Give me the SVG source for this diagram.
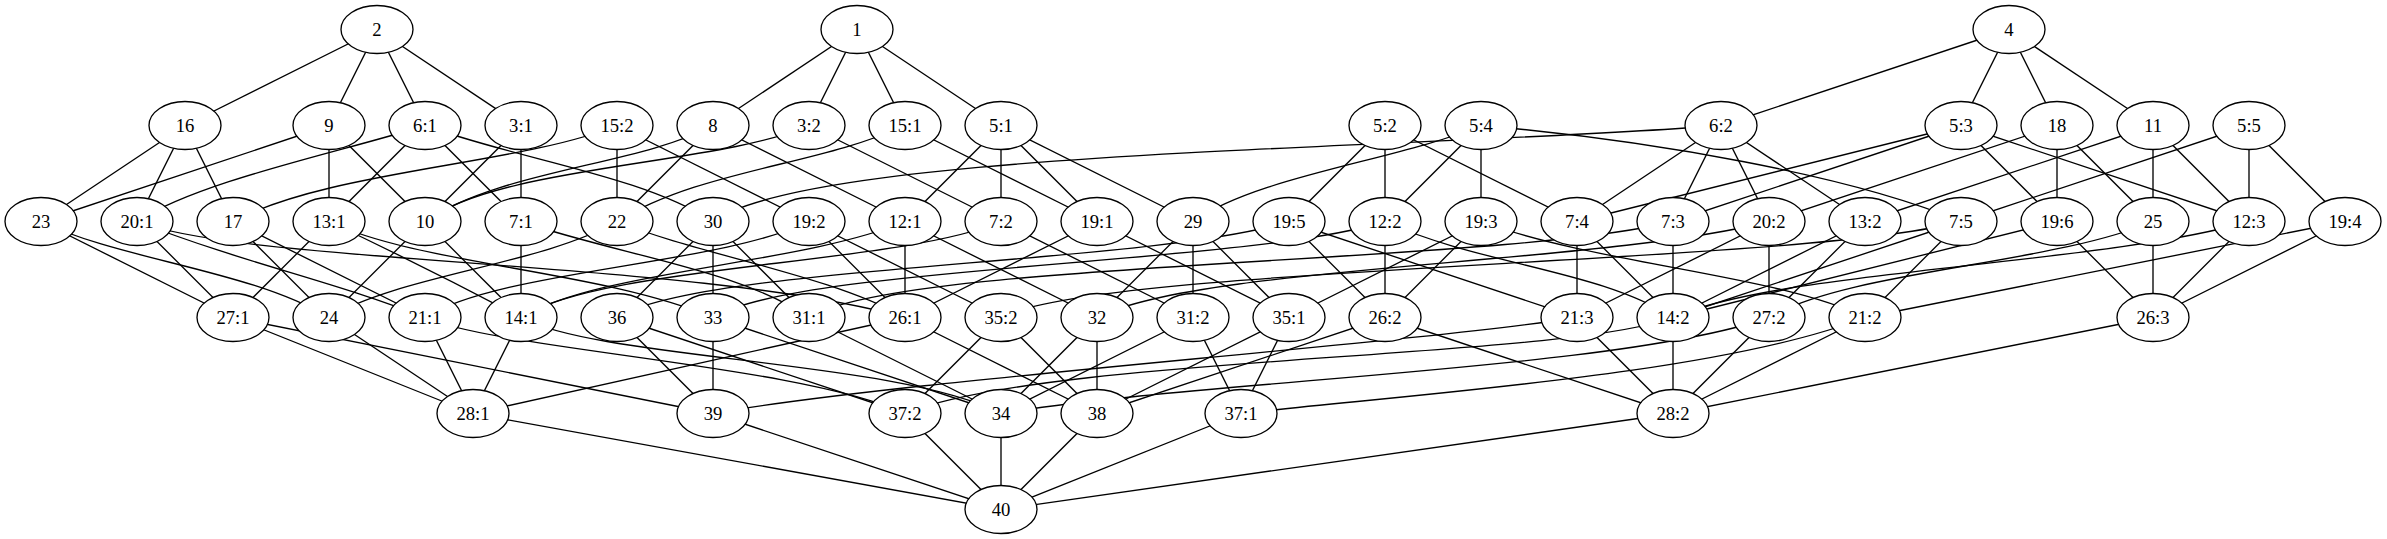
<svg xmlns="http://www.w3.org/2000/svg" width="2387" height="539" viewBox="0 0 2387 539">
<style>
.e{stroke:#000;stroke-width:1.33;fill:none}
.n ellipse{fill:#fff;stroke:#000;stroke-width:1.33}
.n text{font-family:"Liberation Serif","Times New Roman",serif;font-size:18.67px;text-anchor:middle;fill:#000}
</style>
<rect width="2387" height="539" fill="#fff"/>
<g id="connectors">
<line class="e" x1="377" y1="29.5" x2="185" y2="125.5"/>
<line class="e" x1="377" y1="29.5" x2="329" y2="125.5"/>
<line class="e" x1="377" y1="29.5" x2="425" y2="125.5"/>
<line class="e" x1="377" y1="29.5" x2="521" y2="125.5"/>
<line class="e" x1="857" y1="29.5" x2="713" y2="125.5"/>
<line class="e" x1="857" y1="29.5" x2="809" y2="125.5"/>
<line class="e" x1="857" y1="29.5" x2="905" y2="125.5"/>
<line class="e" x1="857" y1="29.5" x2="1001" y2="125.5"/>
<line class="e" x1="2009" y1="29.5" x2="1721" y2="125.5"/>
<line class="e" x1="2009" y1="29.5" x2="1961" y2="125.5"/>
<line class="e" x1="2009" y1="29.5" x2="2057" y2="125.5"/>
<line class="e" x1="2009" y1="29.5" x2="2153" y2="125.5"/>

<line class="e" x1="185" y1="125.5" x2="41" y2="221.5"/>
<line class="e" x1="185" y1="125.5" x2="137" y2="221.5"/>
<line class="e" x1="185" y1="125.5" x2="233" y2="221.5"/>
<line class="e" x1="329" y1="125.5" x2="41" y2="221.5"/>
<line class="e" x1="329" y1="125.5" x2="329" y2="221.5"/>
<line class="e" x1="329" y1="125.5" x2="425" y2="221.5"/>
<path class="e" d="M425,125.5 C350,150 200,180 137,221.5"/>
<line class="e" x1="425" y1="125.5" x2="329" y2="221.5"/>
<line class="e" x1="425" y1="125.5" x2="521" y2="221.5"/>
<path class="e" d="M425,125.5 C520,160 640,175 713,221.5"/>
<line class="e" x1="521" y1="125.5" x2="425" y2="221.5"/>
<line class="e" x1="521" y1="125.5" x2="521" y2="221.5"/>
<path class="e" d="M617,125.5 C520,165 330,170 233,221.5"/>
<line class="e" x1="617" y1="125.5" x2="617" y2="221.5"/>
<line class="e" x1="617" y1="125.5" x2="809" y2="221.5"/>
<path class="e" d="M713,125.5 C640,165 500,170 425,221.5"/>
<line class="e" x1="713" y1="125.5" x2="617" y2="221.5"/>
<line class="e" x1="713" y1="125.5" x2="905" y2="221.5"/>
<path class="e" d="M809,125.5 C720,165 500,165 425,221.5"/>
<line class="e" x1="809" y1="125.5" x2="1001" y2="221.5"/>
<path class="e" d="M905,125.5 C820,165 700,170 617,221.5"/>
<line class="e" x1="905" y1="125.5" x2="1097" y2="221.5"/>
<line class="e" x1="1001" y1="125.5" x2="905" y2="221.5"/>
<line class="e" x1="1001" y1="125.5" x2="1001" y2="221.5"/>
<line class="e" x1="1001" y1="125.5" x2="1097" y2="221.5"/>
<line class="e" x1="1001" y1="125.5" x2="1193" y2="221.5"/>
<line class="e" x1="1385" y1="125.5" x2="1289" y2="221.5"/>
<line class="e" x1="1385" y1="125.5" x2="1385" y2="221.5"/>
<line class="e" x1="1385" y1="125.5" x2="1577" y2="221.5"/>
<path class="e" d="M1481,125.5 C1400,160 1260,175 1193,221.5"/>
<line class="e" x1="1481" y1="125.5" x2="1385" y2="221.5"/>
<line class="e" x1="1481" y1="125.5" x2="1481" y2="221.5"/>
<path class="e" d="M1481,125.5 C1650,140 1850,175 1961,221.5"/>
<path class="e" d="M1721,125.5 C1419,149.5 814,149.5 713,221.5"/>
<line class="e" x1="1721" y1="125.5" x2="1577" y2="221.5"/>
<line class="e" x1="1721" y1="125.5" x2="1673" y2="221.5"/>
<line class="e" x1="1721" y1="125.5" x2="1769" y2="221.5"/>
<line class="e" x1="1721" y1="125.5" x2="1865" y2="221.5"/>
<line class="e" x1="1961" y1="125.5" x2="1577" y2="221.5"/>
<line class="e" x1="1961" y1="125.5" x2="1673" y2="221.5"/>
<line class="e" x1="1961" y1="125.5" x2="2057" y2="221.5"/>
<line class="e" x1="1961" y1="125.5" x2="2249" y2="221.5"/>
<line class="e" x1="2057" y1="125.5" x2="1769" y2="221.5"/>
<line class="e" x1="2057" y1="125.5" x2="2057" y2="221.5"/>
<line class="e" x1="2057" y1="125.5" x2="2153" y2="221.5"/>
<line class="e" x1="2153" y1="125.5" x2="1865" y2="221.5"/>
<line class="e" x1="2153" y1="125.5" x2="2153" y2="221.5"/>
<line class="e" x1="2153" y1="125.5" x2="2249" y2="221.5"/>
<line class="e" x1="2249" y1="125.5" x2="1961" y2="221.5"/>
<line class="e" x1="2249" y1="125.5" x2="2249" y2="221.5"/>
<line class="e" x1="2249" y1="125.5" x2="2345" y2="221.5"/>

<line class="e" x1="41" y1="221.5" x2="233" y2="317.5"/>
<path class="e" d="M41,221.5 C120,260 250,270 329,317.5"/>
<line class="e" x1="137" y1="221.5" x2="233" y2="317.5"/>
<path class="e" d="M137,221.5 C250,265 330,280 425,317.5"/>
<path class="e" d="M137,221.5 C250,265 700,260 905,317.5"/>
<line class="e" x1="233" y1="221.5" x2="329" y2="317.5"/>
<line class="e" x1="233" y1="221.5" x2="425" y2="317.5"/>
<line class="e" x1="329" y1="221.5" x2="233" y2="317.5"/>
<path class="e" d="M329,221.5 C400,255 450,280 521,317.5"/>
<path class="e" d="M329,221.5 C420,265 600,270 713,317.5"/>
<line class="e" x1="425" y1="221.5" x2="329" y2="317.5"/>
<line class="e" x1="425" y1="221.5" x2="521" y2="317.5"/>
<line class="e" x1="521" y1="221.5" x2="521" y2="317.5"/>
<path class="e" d="M521,221.5 C620,255 740,270 809,317.5"/>
<path class="e" d="M617,221.5 C540,265 400,275 329,317.5"/>
<path class="e" d="M617,221.5 C700,255 830,275 905,317.5"/>
<line class="e" x1="713" y1="221.5" x2="617" y2="317.5"/>
<line class="e" x1="713" y1="221.5" x2="713" y2="317.5"/>
<line class="e" x1="713" y1="221.5" x2="809" y2="317.5"/>
<path class="e" d="M809,221.5 C720,265 500,270 425,317.5"/>
<line class="e" x1="809" y1="221.5" x2="905" y2="317.5"/>
<line class="e" x1="809" y1="221.5" x2="1001" y2="317.5"/>
<path class="e" d="M905,221.5 C800,265 600,270 521,317.5"/>
<line class="e" x1="905" y1="221.5" x2="905" y2="317.5"/>
<line class="e" x1="905" y1="221.5" x2="1097" y2="317.5"/>
<path class="e" d="M1001,221.5 C900,265 600,265 521,317.5"/>
<line class="e" x1="1001" y1="221.5" x2="1193" y2="317.5"/>
<line class="e" x1="1097" y1="221.5" x2="905" y2="317.5"/>
<line class="e" x1="1097" y1="221.5" x2="1289" y2="317.5"/>
<line class="e" x1="1193" y1="221.5" x2="1097" y2="317.5"/>
<line class="e" x1="1193" y1="221.5" x2="1193" y2="317.5"/>
<line class="e" x1="1193" y1="221.5" x2="1289" y2="317.5"/>
<path class="e" d="M1289,221.5 C1150,265 700,265 617,317.5"/>
<line class="e" x1="1289" y1="221.5" x2="1385" y2="317.5"/>
<line class="e" x1="1289" y1="221.5" x2="1577" y2="317.5"/>
<path class="e" d="M1385,221.5 C1250,265 800,265 713,317.5"/>
<line class="e" x1="1385" y1="221.5" x2="1385" y2="317.5"/>
<path class="e" d="M1385,221.5 C1480,265 1600,270 1673,317.5"/>
<line class="e" x1="1481" y1="221.5" x2="1289" y2="317.5"/>
<line class="e" x1="1481" y1="221.5" x2="1385" y2="317.5"/>
<path class="e" d="M1481,221.5 C1600,265 1780,275 1865,317.5"/>
<line class="e" x1="1577" y1="221.5" x2="1577" y2="317.5"/>
<line class="e" x1="1577" y1="221.5" x2="1673" y2="317.5"/>
<path class="e" d="M1673,221.5 C1500,265 900,260 809,317.5"/>
<line class="e" x1="1673" y1="221.5" x2="1673" y2="317.5"/>
<path class="e" d="M1769,221.5 C1600,265 1200,265 1097,317.5"/>
<line class="e" x1="1769" y1="221.5" x2="1577" y2="317.5"/>
<line class="e" x1="1769" y1="221.5" x2="1769" y2="317.5"/>
<line class="e" x1="1865" y1="221.5" x2="1673" y2="317.5"/>
<line class="e" x1="1865" y1="221.5" x2="1769" y2="317.5"/>
<path class="e" d="M1961,221.5 C1800,265 1100,265 1001,317.5"/>
<line class="e" x1="1961" y1="221.5" x2="1673" y2="317.5"/>
<line class="e" x1="1961" y1="221.5" x2="1865" y2="317.5"/>
<line class="e" x1="2057" y1="221.5" x2="1673" y2="317.5"/>
<line class="e" x1="2057" y1="221.5" x2="2153" y2="317.5"/>
<path class="e" d="M2153,221.5 C2050,265 1850,270 1769,317.5"/>
<line class="e" x1="2153" y1="221.5" x2="2153" y2="317.5"/>
<path class="e" d="M2249,221.5 C2100,265 1780,270 1673,317.5"/>
<line class="e" x1="2249" y1="221.5" x2="2153" y2="317.5"/>
<line class="e" x1="2345" y1="221.5" x2="1865" y2="317.5"/>
<line class="e" x1="2345" y1="221.5" x2="2153" y2="317.5"/>

<line class="e" x1="233" y1="317.5" x2="473" y2="413.5"/>
<line class="e" x1="233" y1="317.5" x2="713" y2="413.5"/>
<line class="e" x1="329" y1="317.5" x2="473" y2="413.5"/>
<line class="e" x1="425" y1="317.5" x2="473" y2="413.5"/>
<path class="e" d="M425,317.5 C500,350 800,365 905,413.5"/>
<line class="e" x1="521" y1="317.5" x2="473" y2="413.5"/>
<path class="e" d="M521,317.5 C600,360 900,360 1001,413.5"/>
<line class="e" x1="617" y1="317.5" x2="713" y2="413.5"/>
<line class="e" x1="617" y1="317.5" x2="905" y2="413.5"/>
<line class="e" x1="713" y1="317.5" x2="713" y2="413.5"/>
<line class="e" x1="713" y1="317.5" x2="1001" y2="413.5"/>
<line class="e" x1="809" y1="317.5" x2="1001" y2="413.5"/>
<line class="e" x1="905" y1="317.5" x2="473" y2="413.5"/>
<line class="e" x1="905" y1="317.5" x2="1097" y2="413.5"/>
<line class="e" x1="1001" y1="317.5" x2="905" y2="413.5"/>
<line class="e" x1="1001" y1="317.5" x2="1097" y2="413.5"/>
<line class="e" x1="1097" y1="317.5" x2="1001" y2="413.5"/>
<line class="e" x1="1097" y1="317.5" x2="1097" y2="413.5"/>
<line class="e" x1="1193" y1="317.5" x2="1001" y2="413.5"/>
<line class="e" x1="1193" y1="317.5" x2="1241" y2="413.5"/>
<line class="e" x1="1289" y1="317.5" x2="1097" y2="413.5"/>
<line class="e" x1="1289" y1="317.5" x2="1241" y2="413.5"/>
<line class="e" x1="1385" y1="317.5" x2="1097" y2="413.5"/>
<line class="e" x1="1385" y1="317.5" x2="1673" y2="413.5"/>
<path class="e" d="M1577,317.5 C1400,345 900,380 713,413.5"/>
<line class="e" x1="1577" y1="317.5" x2="1673" y2="413.5"/>
<path class="e" d="M1673,317.5 C1560,360 1050,355 905,413.5"/>
<line class="e" x1="1673" y1="317.5" x2="1673" y2="413.5"/>
<path class="e" d="M1769,317.5 C1620,370 1200,380 1001,413.5"/>
<line class="e" x1="1769" y1="317.5" x2="1673" y2="413.5"/>
<path class="e" d="M1865,317.5 C1720,375 1400,395 1241,413.5"/>
<line class="e" x1="1865" y1="317.5" x2="1673" y2="413.5"/>
<line class="e" x1="2153" y1="317.5" x2="1673" y2="413.5"/>

<line class="e" x1="473" y1="413.5" x2="1001" y2="509.5"/>
<line class="e" x1="713" y1="413.5" x2="1001" y2="509.5"/>
<line class="e" x1="905" y1="413.5" x2="1001" y2="509.5"/>
<line class="e" x1="1001" y1="413.5" x2="1001" y2="509.5"/>
<line class="e" x1="1097" y1="413.5" x2="1001" y2="509.5"/>
<line class="e" x1="1241" y1="413.5" x2="1001" y2="509.5"/>
<line class="e" x1="1673" y1="413.5" x2="1001" y2="509.5"/>
</g>
<g id="n2" class="n"><ellipse cx="377" cy="29.5" rx="36" ry="24"/><text x="377" y="36">2</text></g>
<g id="n1" class="n"><ellipse cx="857" cy="29.5" rx="36" ry="24"/><text x="857" y="36">1</text></g>
<g id="n4" class="n"><ellipse cx="2009" cy="29.5" rx="36" ry="24"/><text x="2009" y="36">4</text></g>
<g id="n16" class="n"><ellipse cx="185" cy="125.5" rx="36" ry="24"/><text x="185" y="132">16</text></g>
<g id="n9" class="n"><ellipse cx="329" cy="125.5" rx="36" ry="24"/><text x="329" y="132">9</text></g>
<g id="n6_1" class="n"><ellipse cx="425" cy="125.5" rx="36" ry="24"/><text x="425" y="132">6:1</text></g>
<g id="n3_1" class="n"><ellipse cx="521" cy="125.5" rx="36" ry="24"/><text x="521" y="132">3:1</text></g>
<g id="n15_2" class="n"><ellipse cx="617" cy="125.5" rx="36" ry="24"/><text x="617" y="132">15:2</text></g>
<g id="n8" class="n"><ellipse cx="713" cy="125.5" rx="36" ry="24"/><text x="713" y="132">8</text></g>
<g id="n3_2" class="n"><ellipse cx="809" cy="125.5" rx="36" ry="24"/><text x="809" y="132">3:2</text></g>
<g id="n15_1" class="n"><ellipse cx="905" cy="125.5" rx="36" ry="24"/><text x="905" y="132">15:1</text></g>
<g id="n5_1" class="n"><ellipse cx="1001" cy="125.5" rx="36" ry="24"/><text x="1001" y="132">5:1</text></g>
<g id="n5_2" class="n"><ellipse cx="1385" cy="125.5" rx="36" ry="24"/><text x="1385" y="132">5:2</text></g>
<g id="n5_4" class="n"><ellipse cx="1481" cy="125.5" rx="36" ry="24"/><text x="1481" y="132">5:4</text></g>
<g id="n6_2" class="n"><ellipse cx="1721" cy="125.5" rx="36" ry="24"/><text x="1721" y="132">6:2</text></g>
<g id="n5_3" class="n"><ellipse cx="1961" cy="125.5" rx="36" ry="24"/><text x="1961" y="132">5:3</text></g>
<g id="n18" class="n"><ellipse cx="2057" cy="125.5" rx="36" ry="24"/><text x="2057" y="132">18</text></g>
<g id="n11" class="n"><ellipse cx="2153" cy="125.5" rx="36" ry="24"/><text x="2153" y="132">11</text></g>
<g id="n5_5" class="n"><ellipse cx="2249" cy="125.5" rx="36" ry="24"/><text x="2249" y="132">5:5</text></g>
<g id="n23" class="n"><ellipse cx="41" cy="221.5" rx="36" ry="24"/><text x="41" y="228">23</text></g>
<g id="n20_1" class="n"><ellipse cx="137" cy="221.5" rx="36" ry="24"/><text x="137" y="228">20:1</text></g>
<g id="n17" class="n"><ellipse cx="233" cy="221.5" rx="36" ry="24"/><text x="233" y="228">17</text></g>
<g id="n13_1" class="n"><ellipse cx="329" cy="221.5" rx="36" ry="24"/><text x="329" y="228">13:1</text></g>
<g id="n10" class="n"><ellipse cx="425" cy="221.5" rx="36" ry="24"/><text x="425" y="228">10</text></g>
<g id="n7_1" class="n"><ellipse cx="521" cy="221.5" rx="36" ry="24"/><text x="521" y="228">7:1</text></g>
<g id="n22" class="n"><ellipse cx="617" cy="221.5" rx="36" ry="24"/><text x="617" y="228">22</text></g>
<g id="n30" class="n"><ellipse cx="713" cy="221.5" rx="36" ry="24"/><text x="713" y="228">30</text></g>
<g id="n19_2" class="n"><ellipse cx="809" cy="221.5" rx="36" ry="24"/><text x="809" y="228">19:2</text></g>
<g id="n12_1" class="n"><ellipse cx="905" cy="221.5" rx="36" ry="24"/><text x="905" y="228">12:1</text></g>
<g id="n7_2" class="n"><ellipse cx="1001" cy="221.5" rx="36" ry="24"/><text x="1001" y="228">7:2</text></g>
<g id="n19_1" class="n"><ellipse cx="1097" cy="221.5" rx="36" ry="24"/><text x="1097" y="228">19:1</text></g>
<g id="n29" class="n"><ellipse cx="1193" cy="221.5" rx="36" ry="24"/><text x="1193" y="228">29</text></g>
<g id="n19_5" class="n"><ellipse cx="1289" cy="221.5" rx="36" ry="24"/><text x="1289" y="228">19:5</text></g>
<g id="n12_2" class="n"><ellipse cx="1385" cy="221.5" rx="36" ry="24"/><text x="1385" y="228">12:2</text></g>
<g id="n19_3" class="n"><ellipse cx="1481" cy="221.5" rx="36" ry="24"/><text x="1481" y="228">19:3</text></g>
<g id="n7_4" class="n"><ellipse cx="1577" cy="221.5" rx="36" ry="24"/><text x="1577" y="228">7:4</text></g>
<g id="n7_3" class="n"><ellipse cx="1673" cy="221.5" rx="36" ry="24"/><text x="1673" y="228">7:3</text></g>
<g id="n20_2" class="n"><ellipse cx="1769" cy="221.5" rx="36" ry="24"/><text x="1769" y="228">20:2</text></g>
<g id="n13_2" class="n"><ellipse cx="1865" cy="221.5" rx="36" ry="24"/><text x="1865" y="228">13:2</text></g>
<g id="n7_5" class="n"><ellipse cx="1961" cy="221.5" rx="36" ry="24"/><text x="1961" y="228">7:5</text></g>
<g id="n19_6" class="n"><ellipse cx="2057" cy="221.5" rx="36" ry="24"/><text x="2057" y="228">19:6</text></g>
<g id="n25" class="n"><ellipse cx="2153" cy="221.5" rx="36" ry="24"/><text x="2153" y="228">25</text></g>
<g id="n12_3" class="n"><ellipse cx="2249" cy="221.5" rx="36" ry="24"/><text x="2249" y="228">12:3</text></g>
<g id="n19_4" class="n"><ellipse cx="2345" cy="221.5" rx="36" ry="24"/><text x="2345" y="228">19:4</text></g>
<g id="n27_1" class="n"><ellipse cx="233" cy="317.5" rx="36" ry="24"/><text x="233" y="324">27:1</text></g>
<g id="n24" class="n"><ellipse cx="329" cy="317.5" rx="36" ry="24"/><text x="329" y="324">24</text></g>
<g id="n21_1" class="n"><ellipse cx="425" cy="317.5" rx="36" ry="24"/><text x="425" y="324">21:1</text></g>
<g id="n14_1" class="n"><ellipse cx="521" cy="317.5" rx="36" ry="24"/><text x="521" y="324">14:1</text></g>
<g id="n36" class="n"><ellipse cx="617" cy="317.5" rx="36" ry="24"/><text x="617" y="324">36</text></g>
<g id="n33" class="n"><ellipse cx="713" cy="317.5" rx="36" ry="24"/><text x="713" y="324">33</text></g>
<g id="n31_1" class="n"><ellipse cx="809" cy="317.5" rx="36" ry="24"/><text x="809" y="324">31:1</text></g>
<g id="n26_1" class="n"><ellipse cx="905" cy="317.5" rx="36" ry="24"/><text x="905" y="324">26:1</text></g>
<g id="n35_2" class="n"><ellipse cx="1001" cy="317.5" rx="36" ry="24"/><text x="1001" y="324">35:2</text></g>
<g id="n32" class="n"><ellipse cx="1097" cy="317.5" rx="36" ry="24"/><text x="1097" y="324">32</text></g>
<g id="n31_2" class="n"><ellipse cx="1193" cy="317.5" rx="36" ry="24"/><text x="1193" y="324">31:2</text></g>
<g id="n35_1" class="n"><ellipse cx="1289" cy="317.5" rx="36" ry="24"/><text x="1289" y="324">35:1</text></g>
<g id="n26_2" class="n"><ellipse cx="1385" cy="317.5" rx="36" ry="24"/><text x="1385" y="324">26:2</text></g>
<g id="n21_3" class="n"><ellipse cx="1577" cy="317.5" rx="36" ry="24"/><text x="1577" y="324">21:3</text></g>
<g id="n14_2" class="n"><ellipse cx="1673" cy="317.5" rx="36" ry="24"/><text x="1673" y="324">14:2</text></g>
<g id="n27_2" class="n"><ellipse cx="1769" cy="317.5" rx="36" ry="24"/><text x="1769" y="324">27:2</text></g>
<g id="n21_2" class="n"><ellipse cx="1865" cy="317.5" rx="36" ry="24"/><text x="1865" y="324">21:2</text></g>
<g id="n26_3" class="n"><ellipse cx="2153" cy="317.5" rx="36" ry="24"/><text x="2153" y="324">26:3</text></g>
<g id="n28_1" class="n"><ellipse cx="473" cy="413.5" rx="36" ry="24"/><text x="473" y="420">28:1</text></g>
<g id="n39" class="n"><ellipse cx="713" cy="413.5" rx="36" ry="24"/><text x="713" y="420">39</text></g>
<g id="n37_2" class="n"><ellipse cx="905" cy="413.5" rx="36" ry="24"/><text x="905" y="420">37:2</text></g>
<g id="n34" class="n"><ellipse cx="1001" cy="413.5" rx="36" ry="24"/><text x="1001" y="420">34</text></g>
<g id="n38" class="n"><ellipse cx="1097" cy="413.5" rx="36" ry="24"/><text x="1097" y="420">38</text></g>
<g id="n37_1" class="n"><ellipse cx="1241" cy="413.5" rx="36" ry="24"/><text x="1241" y="420">37:1</text></g>
<g id="n28_2" class="n"><ellipse cx="1673" cy="413.5" rx="36" ry="24"/><text x="1673" y="420">28:2</text></g>
<g id="n40" class="n"><ellipse cx="1001" cy="509.5" rx="36" ry="24"/><text x="1001" y="516">40</text></g>
</svg>
